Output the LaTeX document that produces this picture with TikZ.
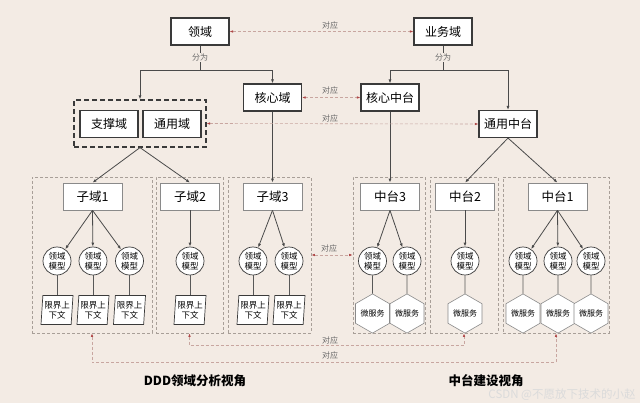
\documentclass[tikz,border=0pt]{standalone}
\usepackage{fontspec}
\setmainfont{Noto Sans CJK SC}
\usetikzlibrary{shapes.geometric,arrows.meta}
\definecolor{bg}{HTML}{F3EBE4}
\definecolor{boxc}{HTML}{3A3A3A}
\definecolor{subc}{HTML}{8A8A8A}
\definecolor{panelc}{HTML}{A89F98}
\definecolor{linec}{HTML}{4A4A4A}
\definecolor{corrc}{HTML}{C8A6A0}
\definecolor{tipc}{HTML}{B04848}
\definecolor{lblc}{HTML}{6A6A6A}
\begin{document}
\begin{tikzpicture}[x=1pt,y=-1pt,
  every node/.style={inner sep=0pt},
  topbox/.style={draw=boxc, line width=1.1pt, fill=white, minimum width=58pt, minimum height=27pt, font=\fontsize{12}{14}\selectfont},
  subbox/.style={draw=subc, line width=0.7pt, fill=white, minimum width=59pt, minimum height=27pt, font=\fontsize{12.5}{14}\selectfont},
  panel/.style={draw=panelc, line width=0.7pt, dash pattern=on 3pt off 2pt, minimum height=156pt},
  model/.style={circle, draw=boxc, line width=0.7pt, fill=white, minimum size=28pt, align=center, font=\fontsize{8.5}{10}\selectfont},
  ctx/.style={trapezium, trapezium left angle=84, trapezium right angle=96, trapezium stretches body, draw=boxc, line width=0.7pt, fill=white, minimum width=32pt, minimum height=29pt, align=center, font=\fontsize{8.5}{10}\selectfont},
  micro/.style={regular polygon, regular polygon sides=6, shape border rotate=90, draw=subc, line width=0.6pt, fill=white, minimum size=34pt, font=\fontsize{8}{10}\selectfont},
  tree/.style={draw=linec, line width=0.8pt},
  treearrow/.style={tree, -{Latex[length=4pt,width=3pt]}},
  corr/.style={draw=corrc, line width=0.6pt, dash pattern=on 3pt off 2pt, {Latex[length=3.5pt,width=2.5pt,color=tipc]}-{Latex[length=3.5pt,width=2.5pt,color=tipc]}},
  lbl/.style={text=lblc, font=\fontsize{8}{9}\selectfont},
  title/.style={font=\fontsize{12.5}{14}\selectfont\bfseries, text=black},
]
\fill[bg] (0,0) rectangle (640,403);
\useasboundingbox (0,0) rectangle (640,403);

% panels
\node[panel, minimum width=120pt] (p1) at (92,255) {};
\node[panel, minimum width=67pt] (p2) at (189.5,255) {};
\node[panel, minimum width=83pt] (p3) at (269.5,255) {};
\node[panel, minimum width=72pt] (p4) at (389,255) {};
\node[panel, minimum width=68pt] (p5) at (464,255) {};
\node[panel, minimum width=106pt] (p6) at (556,255) {};

% top level
\node[topbox] (ly) at (200,31.5) {领域};
\node[topbox] (yw) at (443,31.5) {业务域};
\node[topbox] (hx) at (272.5,97.5) {核心域};
\node[topbox] (hxzt) at (390,97.5) {核心中台};
\node[draw=boxc, line width=1.2pt, dash pattern=on 5pt off 3pt, minimum width=132pt, minimum height=47pt] (grp) at (140,123.5) {};
\node[topbox] (zc) at (109,124) {支撑域};
\node[topbox] (ty) at (172,124) {通用域};
\node[topbox] (tyzt) at (508,124) {通用中台};

% sub boxes
\node[subbox] (s1) at (92.5,196.5) {子域1};
\node[subbox] (s2) at (190,196.5) {子域2};
\node[subbox] (s3) at (272.5,196.5) {子域3};
\node[subbox] (z3) at (390,196.5) {中台3};
\node[subbox] (z2) at (465,196.5) {中台2};
\node[subbox] (z1) at (557.5,196.5) {中台1};

% domain models
\foreach \n/\x in {m11/57,m12/93,m13/129.5,m21/190,m31/253,m32/289,m41/372.5,m42/407,m51/465,m61/523,m62/558,m63/591}
  \node[model] (\n) at (\x,261) {领域\\模型};

% bounded contexts
\foreach \n/\x in {c11/57,c12/93,c13/129.5,c21/190,c31/253,c32/289}
  \node[ctx] (\n) at (\x,310) {限界上\\下文};

% micro services
\foreach \n/\x in {h41/372.5,h42/407,h51/465,h61/523,h62/558,h63/591}
  \node[micro] (\n) at (\x,313.5) {微服务};

% tree connectors
\coordinate (lyj) at (200,70);
\draw[tree] (ly) -- (lyj) node[midway, fill=bg, lbl, inner sep=1pt] (fw1) {分为};
\draw[treearrow] (lyj) -| (grp.north);
\draw[treearrow] (lyj) -| (hx.north);
\coordinate (ywj) at (443,70);
\draw[tree] (yw) -- (ywj) node[midway, fill=bg, lbl, inner sep=1pt] (fw2) {分为};
\draw[treearrow] (ywj) -| (hxzt.north);
\draw[treearrow] (ywj) -| (tyzt.north);

\draw[treearrow] (grp.south) -- (s1.north);
\draw[treearrow] (grp.south) -- (s2.north);
\draw[treearrow] (hx) -- (s3);
\draw[treearrow] (hxzt) -- (z3);
\draw[treearrow] (tyzt.south) -- (z2.north);
\draw[treearrow] (tyzt.south) -- (z1.north);

\foreach \s/\m in {s1/m11,s1/m12,s1/m13,s2/m21,s3/m31,s3/m32,z3/m41,z3/m42,z2/m51,z1/m61,z1/m62,z1/m63}
  \draw[treearrow] (\s.south) -- (\m);

\foreach \m/\c in {m11/c11,m12/c12,m13/c13,m21/c21,m31/c31,m32/c32,m41/h41,m42/h42,m51/h51,m61/h61,m62/h62,m63/h63}
  \draw[tree, line width=0.7pt, draw=boxc!85] (\m) -- (\c);

% correspondences
\draw[corr] (ly) -- (yw);
\node[lbl] (d1) at (330,25) {对应};
\draw[corr] (hx) -- (hxzt);
\node[lbl] (d2) at (330,90) {对应};
\draw[corr] (grp.east) -- (tyzt.west);
\node[lbl] (d3) at (330,118) {对应};
\draw[corr] (p3.east) -- (p4.west);
\node[lbl] (d4) at (329,248) {对应};
\draw[corr] (p2.south) -- ++(0,12) -| (p5.south);
\node[lbl] (d5) at (330,340) {对应};
\draw[corr] (p1.south) -- ++(0,29) -| (p6.south);
\node[lbl] (d6) at (330,355) {对应};

% titles
\node[title] (t1) at (195,381) {DDD领域分析视角};
\node[title] (t2) at (486,381) {中台建设视角};
\node[font=\fontsize{11.5}{13}\selectfont, text=white!72!gray] (wm) at (562,395) {CSDN @不愿放下技术的小赵};
\end{tikzpicture}
\end{document}
